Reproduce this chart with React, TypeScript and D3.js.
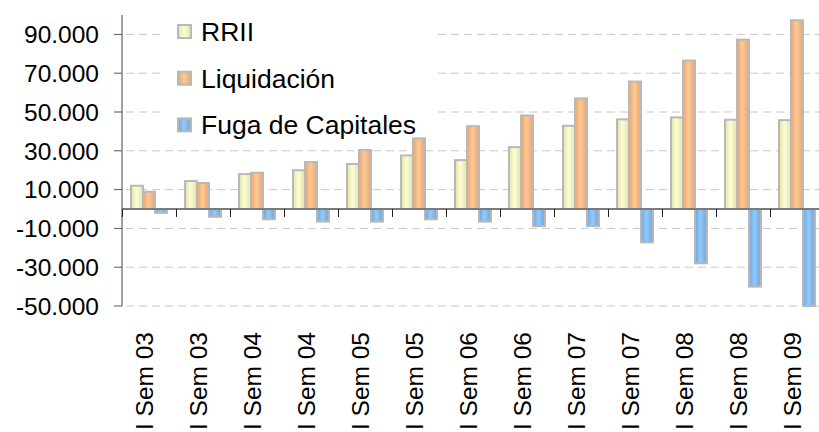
import React from 'react';
import * as d3 from 'd3';

const categories = [
  'I Sem 03', 'I Sem 03', 'I Sem 04', 'I Sem 04', 'I Sem 05', 'I Sem 05', 'I Sem 06',
  'I Sem 06', 'I Sem 07', 'I Sem 07', 'I Sem 08', 'I Sem 08', 'I Sem 09'
];
const rrii = [12000, 14400, 18000, 20000, 23200, 27600, 25200, 31900, 42900, 46200, 47200, 46000, 45800];
const liquidacion = [8900, 13400, 18700, 24200, 30400, 36400, 42700, 48200, 57000, 65700, 76500, 87300, 97300];
const fuga = [-2000, -4000, -5300, -6500, -6500, -5300, -6500, -8800, -8800, -17200, -28000, -40000, -50000];
const yTicks = [-50000, -30000, -10000, 10000, 30000, 50000, 70000, 90000];
const seriesNames = ['RRII', 'Liquidación', 'Fuga de Capitales'];

const series = [
  { name: seriesNames[0], values: rrii, id: 'gY', edge: '#e2e2a6', mid: '#fdfdd6' },
  { name: seriesNames[1], values: liquidacion, id: 'gO', edge: '#eca66e', mid: '#fcc896' },
  { name: seriesNames[2], values: fuga, id: 'gB', edge: '#6fa6dc', mid: '#94c8fa' },
];

const W = 819;
const H = 432;
const font = '"Liberation Sans", Arial, sans-serif';

// 90000 -> "90.000"
const fmt = (v: number) => d3.format(',')(v).replace(/,/g, '.').replace('−', '-');

const App: React.FC = () => {
  const x = d3.scaleBand<number>()
    .domain(d3.range(categories.length))
    .range([122, 122 + 54 * categories.length]);
  const inner = d3.scaleBand<string>()
    .domain(seriesNames)
    .range([9, 45]);
  const y = d3.scaleLinear().domain([-50000, 100000]).range([306, 15]);
  const zero = y(0);

  return (
    <svg width={W} height={H} style={{ position: 'absolute', left: 0, top: 0, background: '#fff' }}>
      <defs>
        {series.map(s => (
          <linearGradient key={s.id} id={s.id} x1="0" x2="1" y1="0" y2="0">
            <stop offset="0" stopColor={s.edge} />
            <stop offset="0.45" stopColor={s.mid} />
            <stop offset="1" stopColor={s.edge} />
          </linearGradient>
        ))}
      </defs>

      {/* gridlines */}
      {yTicks.map(t => (
        <line key={'g' + t} x1={126} x2={W} y1={y(t)} y2={y(t)}
          stroke="#c8c8c8" strokeWidth={1} strokeDasharray="8,5" />
      ))}

      {/* legend background */}
      <rect x={163} y={15} width={270} height={128} fill="#fff" />

      {/* bars */}
      {series.map(s => (
        <g key={s.name}>
          {s.values.map((v, i) => {
            const bx = (x(i) || 0) + (inner(s.name) || 0);
            return (
              <rect key={i} x={bx} width={inner.bandwidth()}
                y={Math.min(y(v), zero)} height={Math.abs(y(v) - zero)}
                fill={`url(#${s.id})`} stroke="#b8b8b8" strokeWidth={2} />
            );
          })}
        </g>
      ))}

      {/* y axis */}
      <line x1={122} x2={122} y1={15} y2={306} stroke="#808080" strokeWidth={1.5} />
      {yTicks.map(t => (
        <g key={'t' + t}>
          <line x1={114} x2={122} y1={y(t)} y2={y(t)} stroke="#555" strokeWidth={1} />
          <text x={99} y={y(t)} dy="0.36em" textAnchor="end" fontFamily={font} fontSize={24.5} fill="#000">
            {fmt(t)}
          </text>
        </g>
      ))}

      {/* zero axis */}
      <line x1={122} x2={W} y1={zero} y2={zero} stroke="#7a7a7a" strokeWidth={2} />
      {categories.map((c, i) => (
        <line key={'ct' + i} x1={(x(i) || 0) + 0.5} x2={(x(i) || 0) + 0.5} y1={zero} y2={zero + 8}
          stroke="#222" strokeWidth={1} />
      ))}

      {/* category labels */}
      {categories.map((c, i) => {
        const cx = (x(i) || 0) + x.bandwidth() / 2 + 4;
        return (
          <text key={'l' + i} transform={`translate(${cx},332) rotate(-90)`} textAnchor="end"
            fontFamily={font} fontSize={24.5} fill="#000">
            {c}
          </text>
        );
      })}

      {/* legend */}
      {series.map((s, i) => (
        <g key={'lg' + s.name} transform={`translate(178,${25 + i * 46.7})`}>
          <rect x={0} y={0} width={13} height={13} fill={`url(#${s.id})`} stroke="#b8b8b8" strokeWidth={2} />
          <text x={23} y={6.5} dy="0.36em" fontFamily={font} fontSize={26.5} fill="#000">{s.name}</text>
        </g>
      ))}
    </svg>
  );
};

export default App;
